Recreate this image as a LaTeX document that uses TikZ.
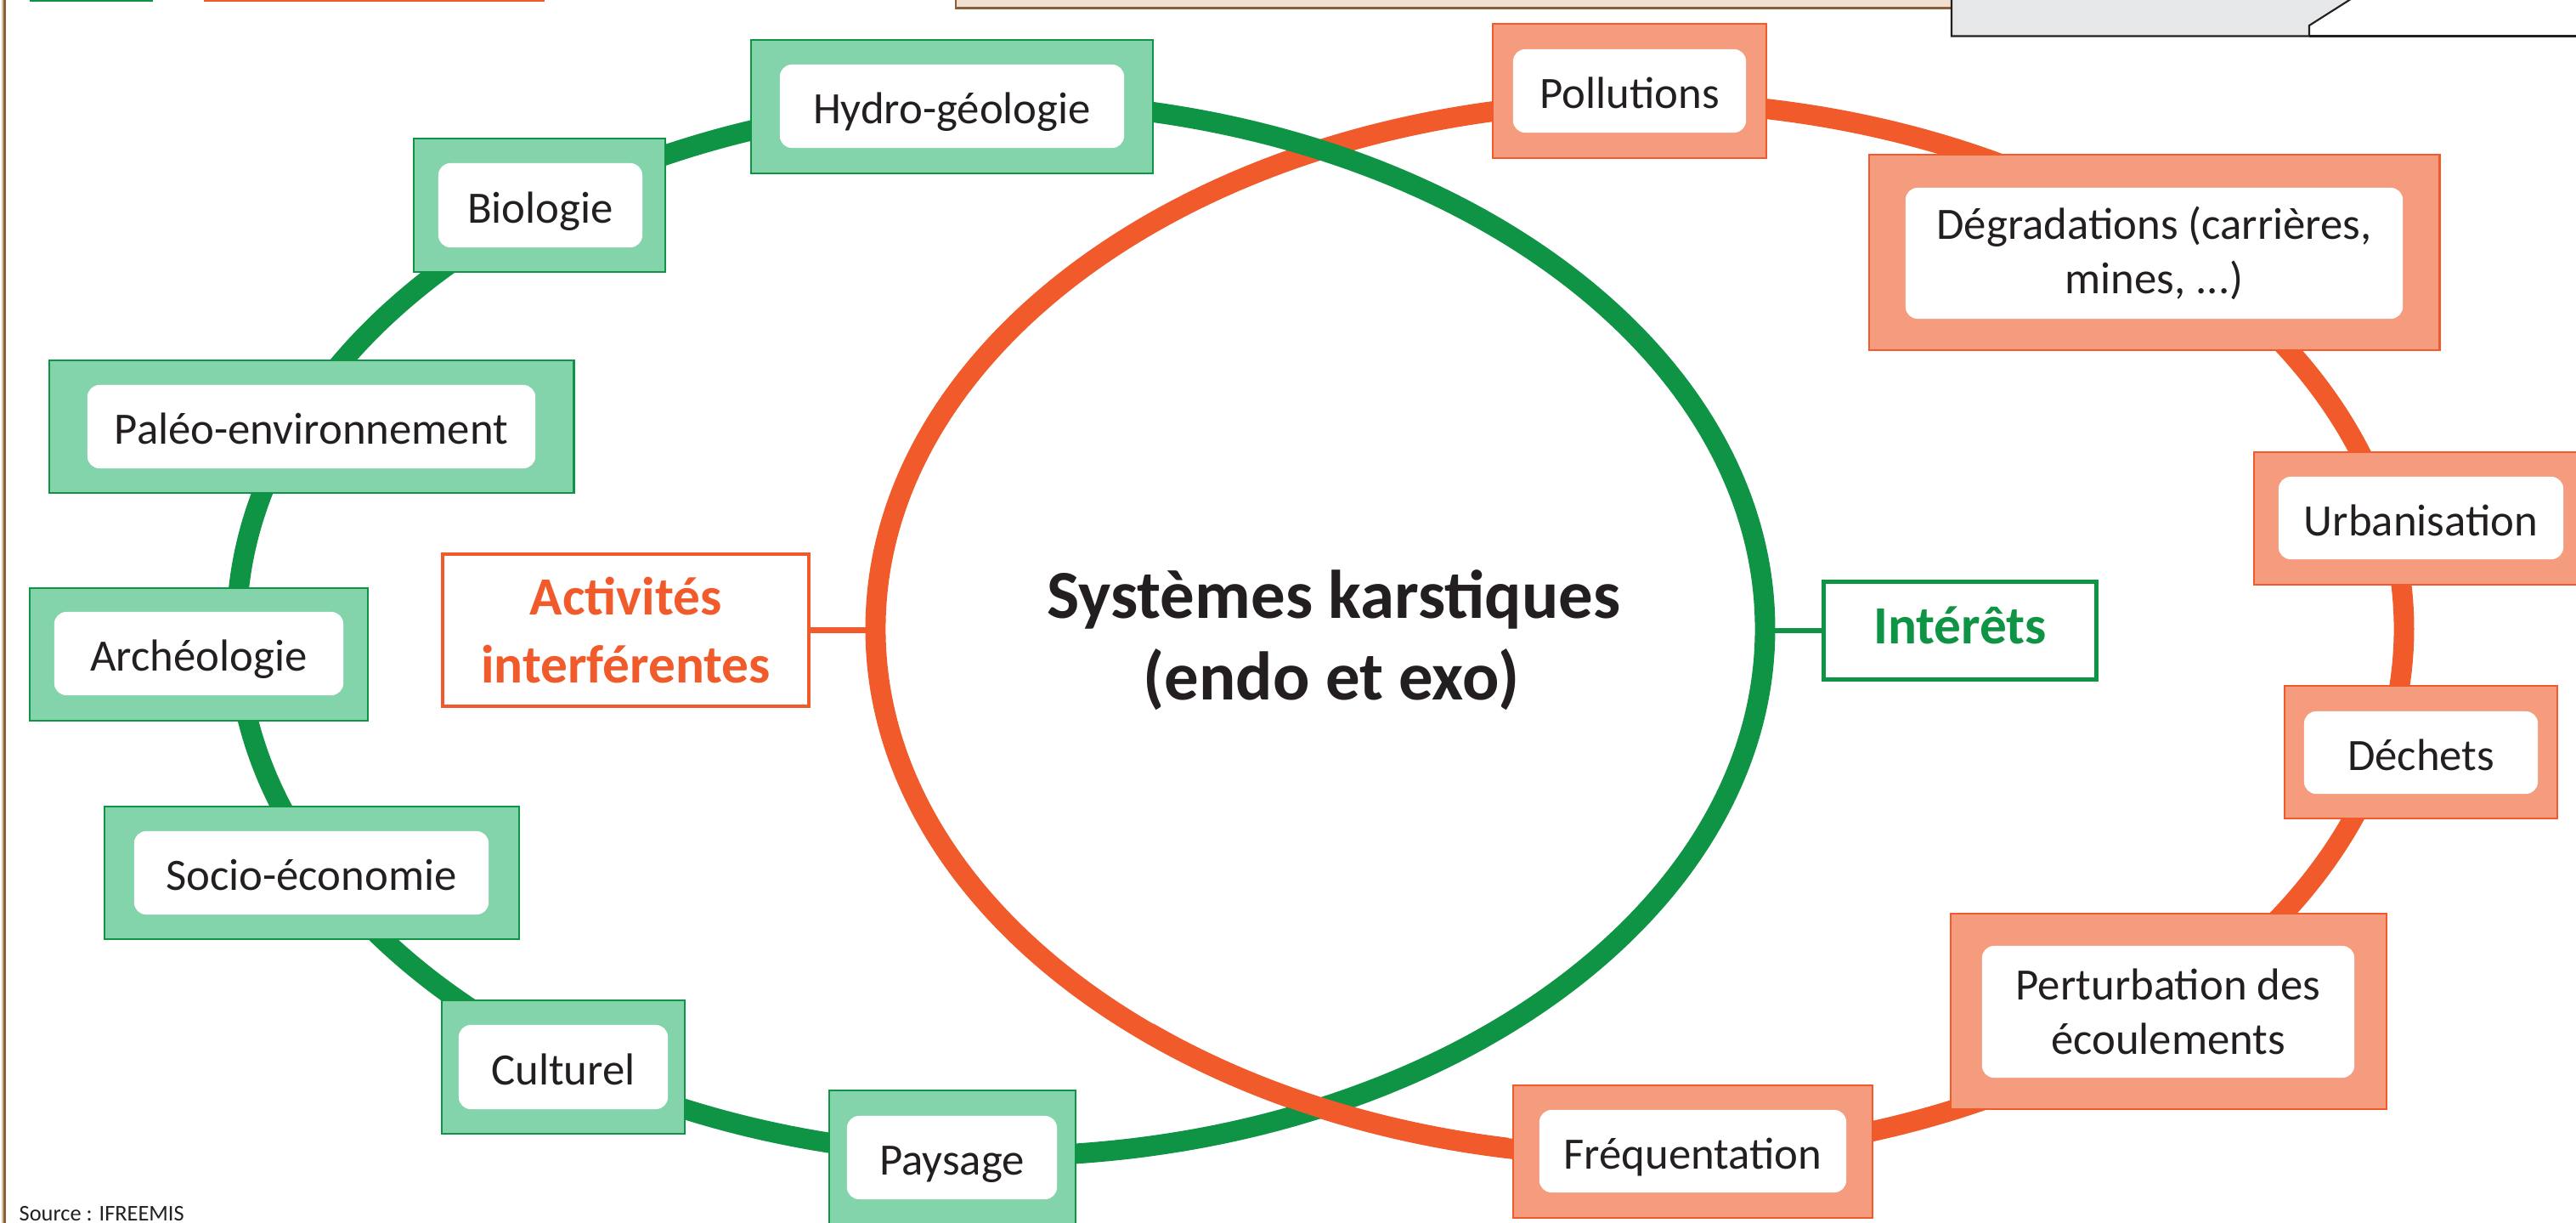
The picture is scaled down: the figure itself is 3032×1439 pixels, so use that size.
\documentclass[tikz,border=0pt]{standalone}
\usepackage{fontspec}
\setmainfont{Carlito}
\usetikzlibrary{shapes.geometric}
\definecolor{kgreen}{HTML}{0E9444}
\definecolor{kgreenfill}{HTML}{83D3AB}
\definecolor{korange}{HTML}{F15A2B}
\definecolor{korangefill}{HTML}{F59B7E}
\definecolor{ktext}{HTML}{231F20}
\definecolor{kgray}{HTML}{E6E7E8}
\definecolor{kbeige}{HTML}{EFE0D1}
\definecolor{ktan}{HTML}{D9BFA5}
\definecolor{kbrown}{HTML}{8A5E38}
\begin{document}
\begin{tikzpicture}[x=0.01cm, y=-0.01cm,
  ring/.style={ellipse, draw, line width=6.8pt, minimum width=17.98cm, minimum height=12.4cm, inner sep=0pt},
  gouter/.style={rectangle, draw=kgreen, fill=kgreenfill, line width=0.75pt, inner sep=0pt},
  oouter/.style={rectangle, draw=korange, fill=korangefill, line width=0.75pt, inner sep=0pt},
  inbox/.style={rectangle, rounded corners=4pt, fill=white, inner sep=0pt, text=ktext,
                font=\fontsize{15}{18}\selectfont, align=center},
  oneline/.style={text height=13pt, text depth=1.1pt},
  lblbox/.style={rectangle, fill=white, line width=1.3pt, inner sep=0pt,
                 font=\bfseries\fontsize{18}{22.7}\selectfont, align=center},
  link/.style={line width=1.8pt}
]
\useasboundingbox (0,0) rectangle (3032,1439);

% --- cut-off frame elements along the edges ---
\fill[ktan] (1.7,0) rectangle (4,1439);
\fill[kbrown] (4,0) rectangle (6.8,1439);
\fill[kgreen] (35,0) rectangle (180,2.3);
\fill[korange] (240,0) rectangle (641,2.3);
\fill[kbeige] (1125,-2) rectangle (2297,9.5);
\draw[kbrown, line width=0.7pt] (1125,-2) -- (1125,9.5) -- (2297,9.5);
\filldraw[fill=kgray, draw=ktext, line width=0.6pt]
  (2297,-3) -- (2297,42.5) -- (2718,42.5) -- (2718,30) -- (2770,-3);
\draw[ktext, line width=0.6pt] (2718,42.5) -- (3040,42.5);

% --- the two rings ---
\node[ring, draw=korange] (oE) at (1930,740) {};
\node[ring, draw=kgreen] (gE) at (1178,740) {};
\draw[korange, line width=6.8pt] (oE.center) ++(100:899 and 620)
  arc[start angle=100, end angle=130, x radius=899, y radius=620];

% --- central title ---
\node[anchor=base, inner sep=0pt, text=ktext, font=\bfseries\fontsize{23}{27}\selectfont] (t1) at (1570,727) {Systèmes karstiques};
\node[anchor=base, inner sep=0pt, text=ktext, font=\bfseries\fontsize{23}{27}\selectfont] (t2) at (1567,823) {(endo et exo)};

% --- labels and their links ---
\node[lblbox, draw=korange, text=korange, minimum width=4.31cm, minimum height=1.79cm] (act) at (736.5,741.5) {Activités\\interférentes};
\node[lblbox, draw=kgreen, text=kgreen, minimum width=3.21cm, minimum height=1.15cm, text height=12pt, text depth=3pt] (int) at (2307,742) {Intérêts};
\draw[link, korange] (act.east) -- (act.east -| oE.west);
\draw[link, kgreen] (int.west) -- (int.west -| gE.east);

% --- green boxes (interests) ---
\node[gouter, minimum width=4.73cm, minimum height=1.57cm] (hydroO) at (1120.5,125.5) {};
\node[inbox, oneline, minimum width=4.05cm, minimum height=0.98cm] (hydro) at (1120.5,125) {Hydro-géologie};
\node[gouter, minimum width=2.96cm, minimum height=1.57cm] (bioO) at (635,241.5) {};
\node[inbox, oneline, minimum width=2.40cm, minimum height=0.99cm] (bio) at (636,241.5) {Biologie};
\node[gouter, minimum width=6.17cm, minimum height=1.56cm] (paleoO) at (366.5,502) {};
\node[inbox, oneline, minimum width=5.27cm, minimum height=0.98cm] (paleo) at (366.5,502) {Paléo-environnement};
\node[gouter, minimum width=3.98cm, minimum height=1.56cm] (archO) at (234,770) {};
\node[inbox, oneline, minimum width=3.40cm, minimum height=0.98cm] (arch) at (234,769) {Archéologie};
\node[gouter, minimum width=4.88cm, minimum height=1.56cm] (socioO) at (367,1027) {};
\node[inbox, oneline, minimum width=4.17cm, minimum height=0.98cm] (socio) at (366.5,1027) {Socio-économie};
\node[gouter, minimum width=2.86cm, minimum height=1.57cm] (cultO) at (663,1255.5) {};
\node[inbox, oneline, minimum width=2.46cm, minimum height=0.99cm] (cult) at (663,1255.5) {Culturel};
\node[gouter, minimum width=2.90cm, minimum height=1.57cm] (paysO) at (1121,1361.5) {};
\node[inbox, oneline, minimum width=2.47cm, minimum height=0.98cm] (pays) at (1120.5,1362) {Paysage};

% --- orange boxes (interfering activities) ---
\node[oouter, minimum width=3.22cm, minimum height=1.58cm] (pollO) at (1918,107) {};
\node[inbox, oneline, minimum width=2.74cm, minimum height=0.98cm] (poll) at (1918,107) {Pollutions};
\node[oouter, minimum width=6.71cm, minimum height=2.30cm] (degO) at (2535.5,297) {};
\node[inbox, minimum width=5.85cm, minimum height=1.54cm] (deg) at (2535.5,298) {Dégradations (carrières,\\mines, ...)};
\node[oouter, minimum width=3.93cm, minimum height=1.56cm] (urbO) at (2849.5,610) {};
\node[inbox, oneline, minimum width=3.35cm, minimum height=0.97cm] (urb) at (2849.5,609.5) {Urbanisation};
\node[oouter, minimum width=3.21cm, minimum height=1.56cm] (dechO) at (2849.5,885) {};
\node[inbox, oneline, minimum width=2.75cm, minimum height=0.97cm] (dech) at (2849.5,885.5) {Déchets};
\node[oouter, minimum width=5.13cm, minimum height=2.30cm] (pertO) at (2552.5,1190) {};
\node[inbox, minimum width=4.38cm, minimum height=1.55cm] (pert) at (2552,1190.5) {Perturbation des\\écoulements};
\node[oouter, minimum width=4.23cm, minimum height=1.56cm] (freqO) at (1992.5,1355) {};
\node[inbox, oneline, minimum width=3.61cm, minimum height=0.97cm] (freq) at (1992.5,1354.5) {Fréquentation};

% --- source ---
\node[anchor=base west, inner sep=0pt, text=ktext, font=\fontsize{7.5}{9}\selectfont] (src) at (22,1436) {Source : IFREEMIS};
\end{tikzpicture}
\end{document}
